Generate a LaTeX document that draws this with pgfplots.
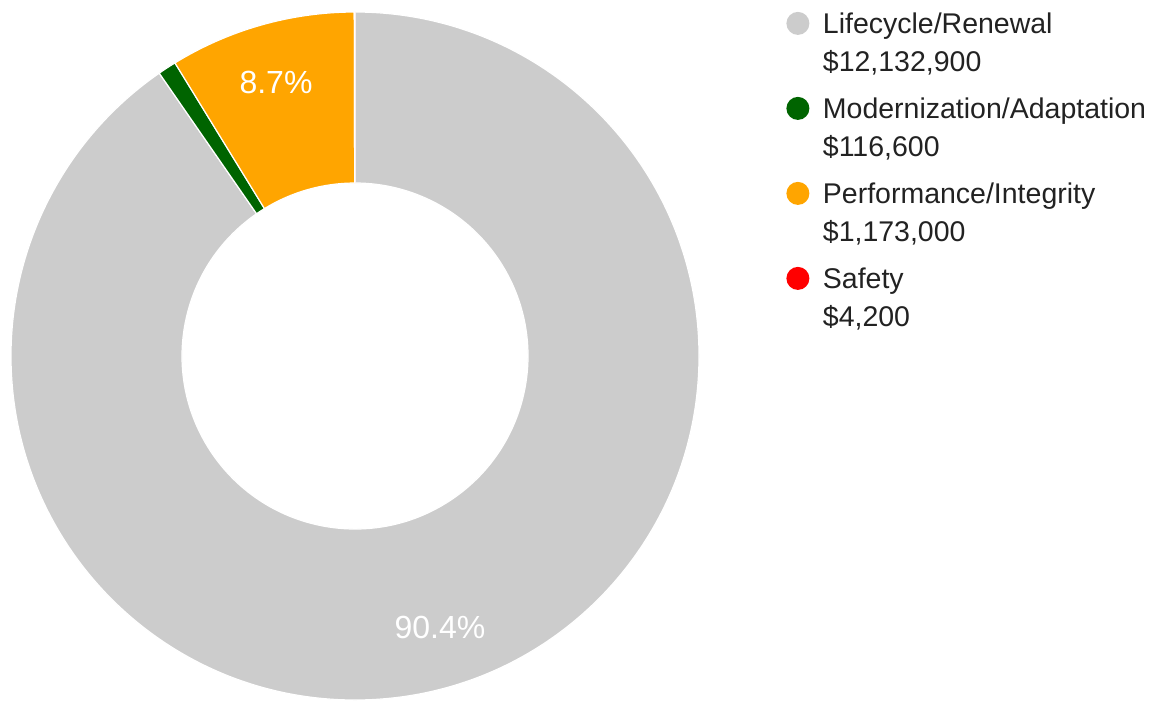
\documentclass[border=0pt]{standalone}
\usepackage{pgfplots}
\usepackage{pgfplotstable}
\usepackage{fontspec}
\setmainfont{Liberation Sans}
\pgfplotsset{compat=1.18}
\definecolor{cLife}{HTML}{CCCCCC}
\definecolor{cMod}{HTML}{006400}
\definecolor{cPerf}{HTML}{FFA500}
\definecolor{cSafe}{HTML}{FF0000}
\definecolor{cText}{HTML}{222222}

\pgfplotstableread[col sep=comma]{
category,value
Lifecycle/Renewal,12132900
Modernization/Adaptation,116600
Performance/Integrity,1173000
Safety,4200
}\budget

\pgfplotstablegetelem{0}{value}\of\budget \edef\vA{\pgfplotsretval}
\pgfplotstablegetelem{1}{value}\of\budget \edef\vB{\pgfplotsretval}
\pgfplotstablegetelem{2}{value}\of\budget \edef\vC{\pgfplotsretval}
\pgfplotstablegetelem{3}{value}\of\budget \edef\vD{\pgfplotsretval}
\edef\tot{\fpeval{\vA+\vB+\vC+\vD}}
\edef\aA{90}
\edef\aB{\fpeval{round(90-360*\vA/\tot,4)}}
\edef\aC{\fpeval{round(\aB-360*\vB/\tot,4)}}
\edef\aD{\fpeval{round(\aC-360*\vC/\tot,4)}}
\edef\aE{\fpeval{round(\aD-360*\vD/\tot,4)}}

% donut centre (axis units = px) and radii
\def\cx{355}\def\cy{347}
\def\Ro{172pt}\def\Ri{86.5pt}
\newcommand\sector[3]{%
  \fill[#3, draw=white, line width=0.6pt]
    ([shift={(#1:\Ro)}]axis cs:\cx,\cy) arc[start angle=#1, end angle=#2, radius=\Ro]
    -- ([shift={(#2:\Ri)}]axis cs:\cx,\cy) arc[start angle=#2, end angle=#1, radius=\Ri]
    -- cycle;}
\newcommand\lent[2]{\vtop{\baselineskip=19pt\hbox{#1}\hbox{#2}}}

\begin{document}
\begin{tikzpicture}
\begin{axis}[
  x=0.5pt, y=0.5pt,
  xmin=0, xmax=1154, ymin=0, ymax=703,
  hide axis, clip=false,
  legend style={at={(0.6811,0.98435)}, anchor=north west, draw=none, fill=none,
    inner sep=0pt, row sep=0pt, column sep=6.75pt,
    cells={anchor=base west},
    nodes={inner sep=0pt, text height=11pt, text depth=31.5pt, text=cText,
           font=\fontsize{14.25}{19}\selectfont}},
]
\path (axis cs:0,0) rectangle (axis cs:1154,703);
\sector{\aA}{\aB}{cLife}
\sector{\aB}{\aC}{cMod}
\sector{\aC}{\aD}{cPerf}
\sector{\aD}{\aE}{cSafe}
\node[text=white, font=\fontsize{16}{19}\selectfont, anchor=base] at (axis cs:276,610) {8.7\%};
\node[text=white, font=\fontsize{16}{19}\selectfont, anchor=base] at (axis cs:440,65) {90.4\%};

\addlegendimage{fill=cLife, draw=none, legend image code/.code={\fill (5.75pt,5pt) circle[radius=5.75pt];}}
\addlegendentry{\lent{Lifecycle/Renewal}{\$12,132,900}}
\addlegendimage{fill=cMod, draw=none, legend image code/.code={\fill (5.75pt,5pt) circle[radius=5.75pt];}}
\addlegendentry{\lent{Modernization/Adaptation}{\$116,600}}
\addlegendimage{fill=cPerf, draw=none, legend image code/.code={\fill (5.75pt,5pt) circle[radius=5.75pt];}}
\addlegendentry{\lent{Performance/Integrity}{\$1,173,000}}
\addlegendimage{fill=cSafe, draw=none, legend image code/.code={\fill (5.75pt,5pt) circle[radius=5.75pt];}}
\addlegendentry{\lent{Safety}{\$4,200}}
\end{axis}
\end{tikzpicture}
\end{document}
